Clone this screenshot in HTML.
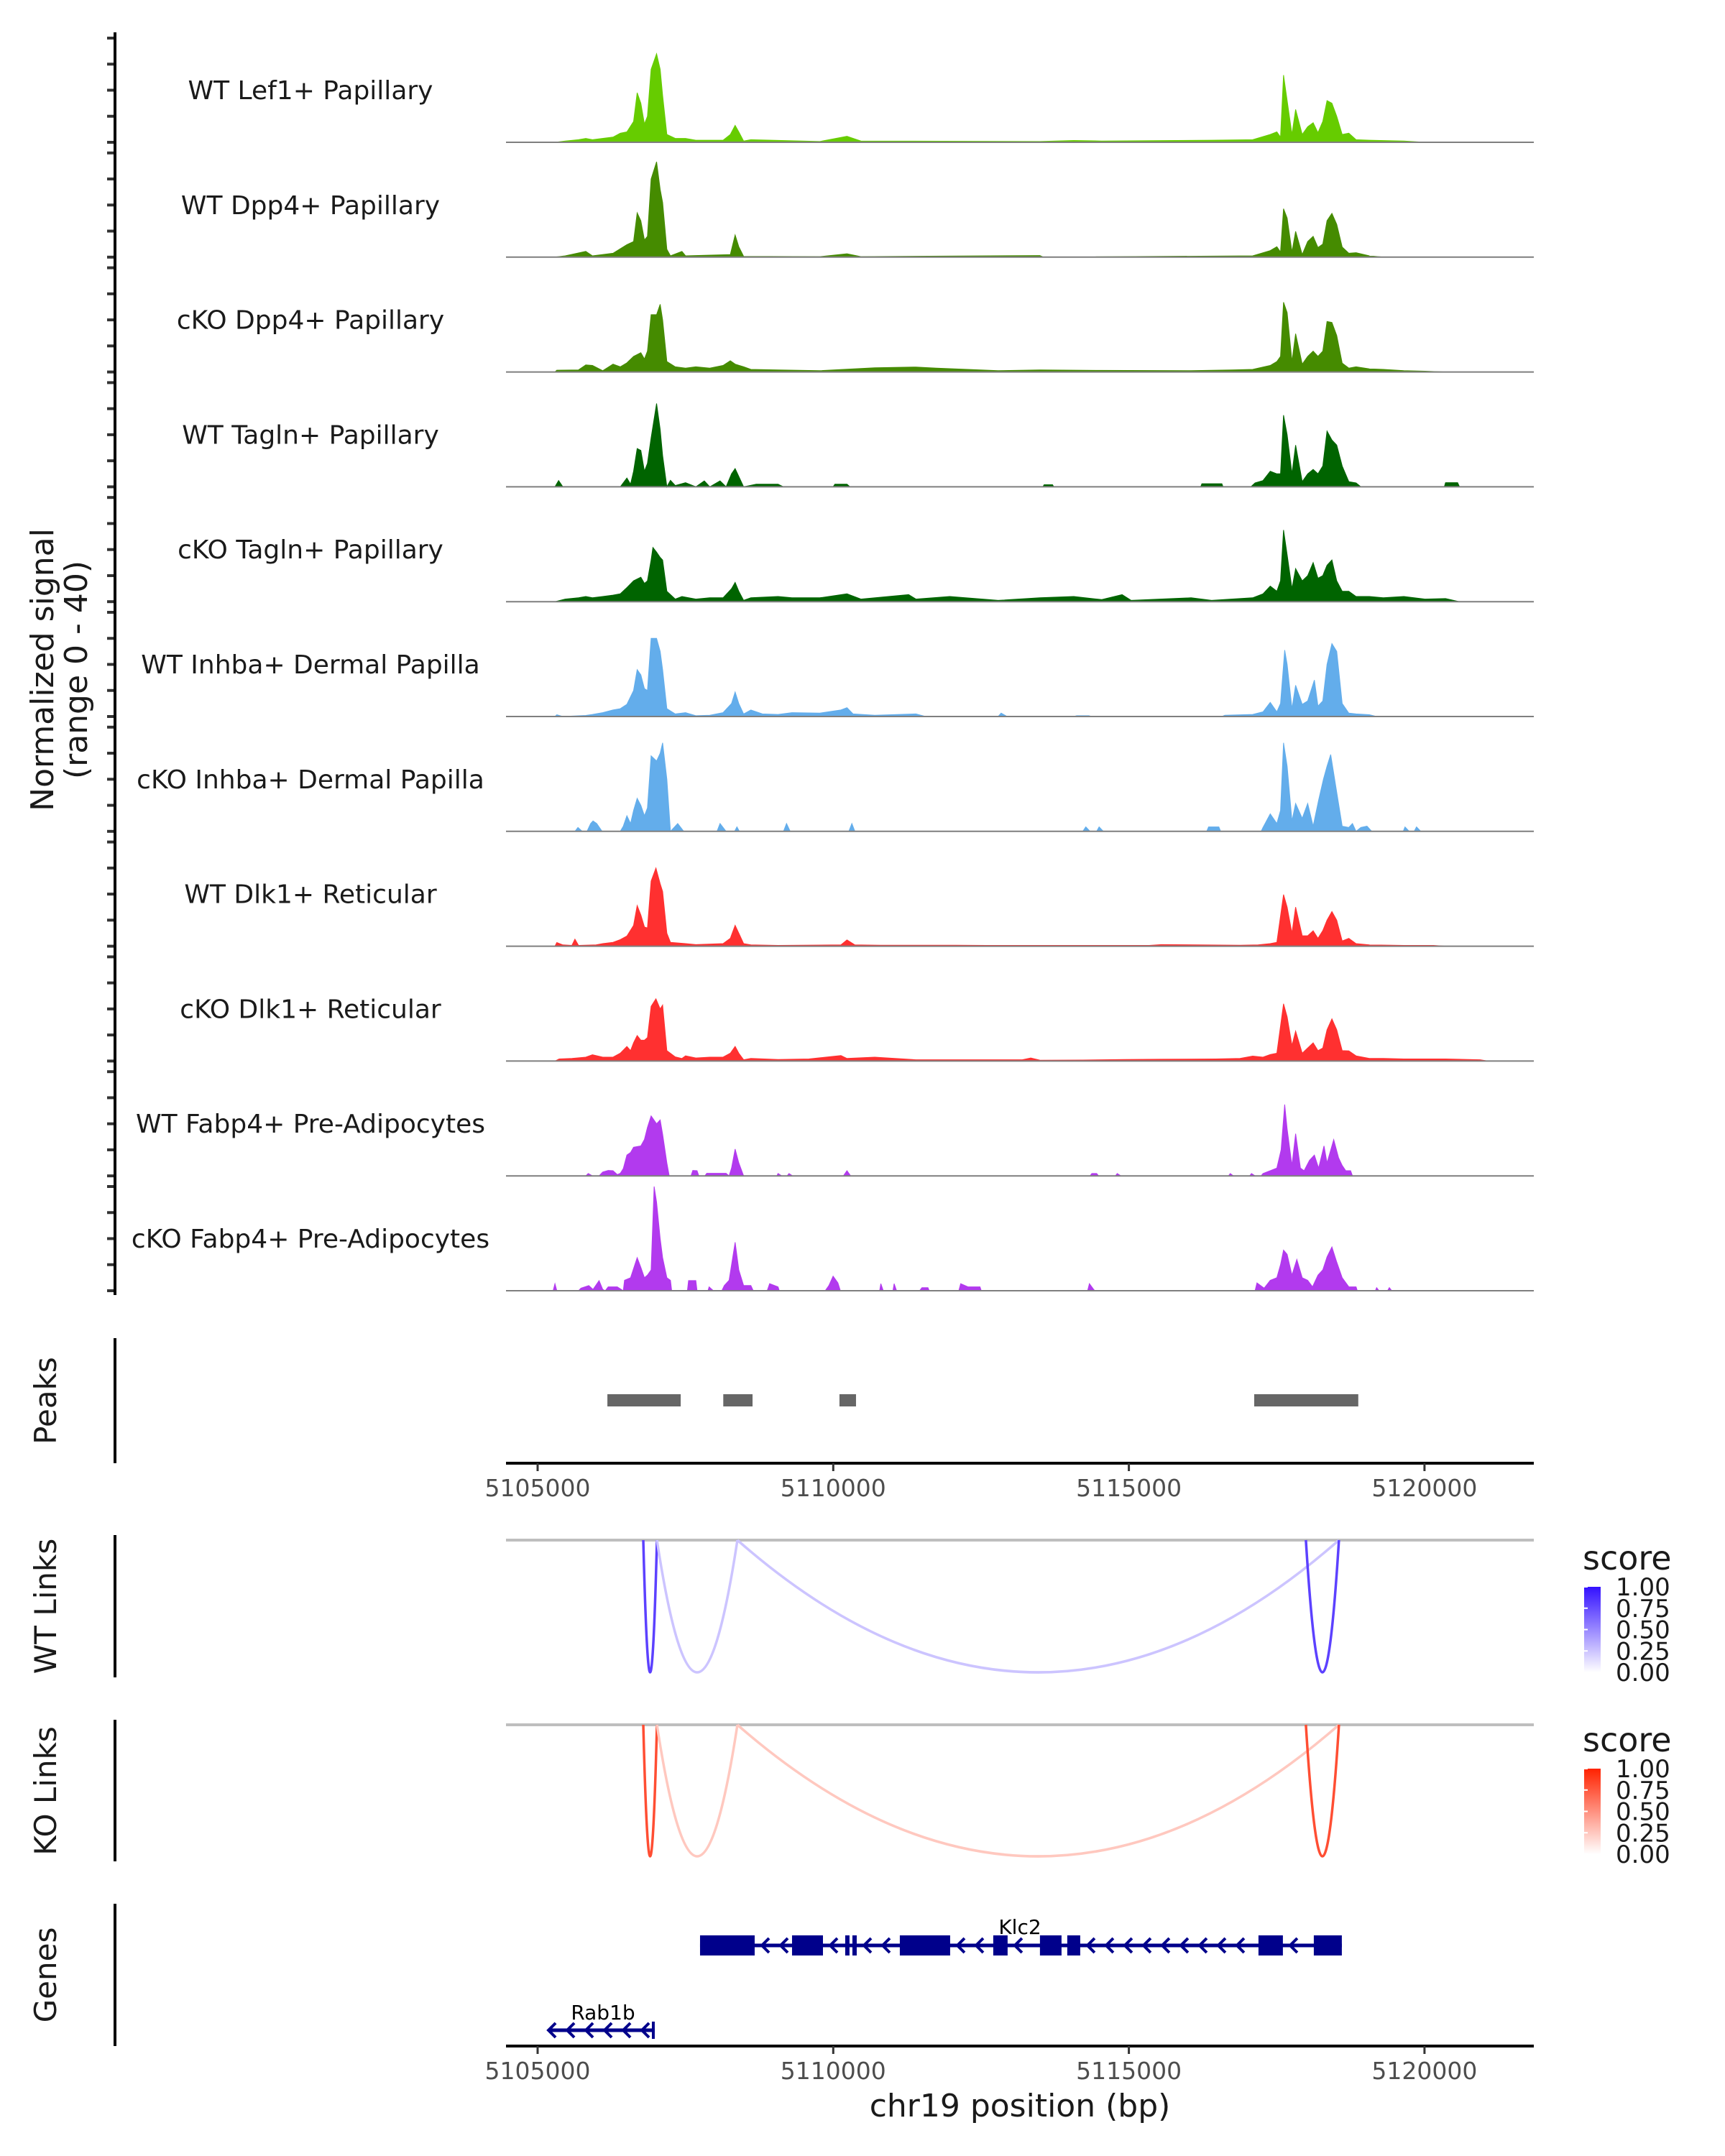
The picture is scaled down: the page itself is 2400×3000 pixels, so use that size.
<!DOCTYPE html>
<html><head><meta charset="utf-8">
<style>
html,body{margin:0;padding:0;background:#fff;}
svg{display:block;}
text{font-family:"DejaVu Sans","Liberation Sans",sans-serif;}
</style></head>
<body>
<svg id="chart" xmlns="http://www.w3.org/2000/svg" width="2400" height="3000" viewBox="0 0 2400 3000">
<rect x="0" y="0" width="2400" height="3000" fill="#fff"/>
<g id="tracks"></g>
<g id="axes"></g>
<g id="links"></g>
<g id="genes"></g>
<text x="0" y="0" transform="translate(82,932) rotate(-90)" text-anchor="middle" font-size="44" fill="#1a1a1a"><tspan x="0" dy="-8">Normalized signal</tspan><tspan x="0" dy="47">(range 0 - 40)</tspan></text>
<text transform="translate(78,1949) rotate(-90)" text-anchor="middle" font-size="42" fill="#1a1a1a">Peaks</text>
<text transform="translate(78,2235) rotate(-90)" text-anchor="middle" font-size="42" fill="#1a1a1a">WT Links</text>
<text transform="translate(78,2492) rotate(-90)" text-anchor="middle" font-size="42" fill="#1a1a1a">KO Links</text>
<text transform="translate(78,2748) rotate(-90)" text-anchor="middle" font-size="42" fill="#1a1a1a">Genes</text>
<text x="1419" y="2945" text-anchor="middle" font-size="44" fill="#1a1a1a">chr19 position (bp)</text>
</svg>
<script>
const NS="http://www.w3.org/2000/svg";
// ---- data ----
const trackNames=["WT Lef1+ Papillary","WT Dpp4+ Papillary","cKO Dpp4+ Papillary","WT Tagln+ Papillary","cKO Tagln+ Papillary","WT Inhba+ Dermal Papilla","cKO Inhba+ Dermal Papilla","WT Dlk1+ Reticular","cKO Dlk1+ Reticular","WT Fabp4+ Pre-Adipocytes","cKO Fabp4+ Pre-Adipocytes"];
const trackColors=["#66CC00","#458B00","#458B00","#006400","#006400","#63ADEB","#63ADEB","#FF3030","#FF3030","#B23AEE","#B23AEE"];
const sigWtLef1=[[5105370,0],[5105540,0.5],[5105760,1],[5105880,1.5],[5105990,1],[5106330,2],[5106450,3.5],[5106560,4],[5106670,8],[5106730,19],[5106790,15],[5106850,7],[5106900,10],[5106960,28],[5107050,34],[5107110,28],[5107150,18],[5107220,3],[5107360,1.5],[5107530,1.5],[5107700,0.8],[5108150,0.8],[5108270,3],[5108350,6.5],[5108410,4],[5108490,0.5],[5108610,1],[5109750,0.3],[5110200,2.3],[5110430,0.5],[5113390,0.3],[5113950,0.7],[5114410,0.5],[5116230,0.8],[5116910,1],[5117200,3],[5117310,4],[5117370,2],[5117420,25.8],[5117480,16],[5117560,3],[5117620,12.6],[5117730,3],[5117820,6],[5117910,7.5],[5117990,3.7],[5118070,8],[5118140,16],[5118220,15],[5118300,10],[5118390,3],[5118500,3.5],[5118620,1],[5118840,0.8],[5119410,0.5],[5119760,0]];
const sigWtDpp4=[[5105370,0],[5105540,0.5],[5105880,2.2],[5105990,0.5],[5106330,1.5],[5106560,4.8],[5106670,6],[5106730,17],[5106790,14],[5106850,6.6],[5106900,8],[5106960,30],[5107050,36.6],[5107110,26],[5107150,21],[5107220,3],[5107280,0.5],[5107470,2.2],[5107530,0.5],[5108270,1],[5108350,8.5],[5108410,4],[5108490,0.3],[5109750,0.2],[5110200,1.3],[5110430,0.2],[5113390,0.6],[5113450,0],[5116910,0.5],[5117200,2.5],[5117310,4],[5117370,2],[5117420,18.6],[5117480,15],[5117560,2],[5117620,9.9],[5117730,1],[5117820,6],[5117910,8],[5117990,3.7],[5118070,5],[5118140,14],[5118220,16.8],[5118300,12.6],[5118390,3.9],[5118500,1.5],[5118620,1.7],[5118840,0.5],[5119070,0]];
const sigCkoDpp4=[[5105370,0],[5105400,0.7],[5105760,0.8],[5105880,2.7],[5105990,2.5],[5106160,0.5],[5106330,3],[5106450,2],[5106560,3.5],[5106670,6],[5106790,7.4],[5106850,5],[5106900,8],[5106960,22],[5107050,22],[5107110,26],[5107150,20],[5107220,4],[5107360,2],[5107530,1.5],[5107700,2],[5107930,1.5],[5108150,2.5],[5108270,4.3],[5108350,3],[5108490,2],[5108610,1],[5109060,0.8],[5109750,0.5],[5110660,1.6],[5111340,1.9],[5111680,1.5],[5112700,0.5],[5113390,0.8],[5114410,0.6],[5115890,0.5],[5116570,0.8],[5116910,1],[5117200,2.5],[5117310,4],[5117370,6],[5117420,26.8],[5117480,22.8],[5117560,4],[5117620,14.7],[5117730,3],[5117820,6],[5117910,8],[5117990,6],[5118070,8],[5118140,19.4],[5118220,19],[5118300,14],[5118390,3.4],[5118500,1.5],[5118620,2],[5118840,1.2],[5119070,1],[5119410,0.5],[5119760,0.3],[5120100,0]];
const sigWtTagln=[[5105370,0],[5105430,2.4],[5105500,0],[5106450,0],[5106560,3.4],[5106620,1],[5106670,6],[5106730,14.7],[5106790,14],[5106850,6],[5106900,9],[5106960,18.8],[5107050,32],[5107110,22],[5107150,12],[5107220,0],[5107280,2.5],[5107360,0.5],[5107530,1.6],[5107700,0],[5107840,2.3],[5107930,0],[5108100,2.3],[5108200,0],[5108290,5],[5108350,7],[5108410,4],[5108490,0],[5108700,1],[5109060,1],[5109150,0],[5109970,0],[5110000,1],[5110200,1],[5110250,0],[5113440,0],[5113460,0.8],[5113600,0.8],[5113620,0],[5116050,0],[5116070,1.2],[5116400,1.2],[5116420,0],[5116880,0],[5116950,1.5],[5117080,2.4],[5117200,6],[5117310,5],[5117370,5],[5117420,27.5],[5117480,20],[5117560,5],[5117620,16],[5117730,2],[5117820,5],[5117910,6.7],[5117990,5],[5118070,8],[5118140,21.4],[5118220,18],[5118300,16],[5118390,8],[5118500,2],[5118620,1.5],[5118700,0],[5120080,0],[5120100,1.6],[5120300,1.6],[5120330,0]];
const sigCkoTagln=[[5105370,0],[5105540,1],[5105760,1.5],[5105880,2],[5105990,1.5],[5106160,2],[5106330,2.5],[5106450,3],[5106560,5.4],[5106670,8],[5106790,9.4],[5106850,7],[5106900,8],[5106960,16],[5106990,20.8],[5107050,19],[5107110,17],[5107150,16],[5107220,4],[5107360,1],[5107470,2],[5107700,1],[5107930,1.5],[5108150,1.5],[5108290,5],[5108350,7.4],[5108410,4],[5108490,0.5],[5108610,1.5],[5109060,2],[5109290,1.5],[5109750,1.5],[5110200,3],[5110430,1],[5111220,2.7],[5111340,1],[5111900,2],[5112700,0.5],[5113390,1.5],[5113950,2],[5114410,0.8],[5114750,2.7],[5114900,0.5],[5115890,1.5],[5116230,0.5],[5116910,1.5],[5117080,3],[5117200,6],[5117310,4],[5117370,8],[5117420,27.5],[5117480,18],[5117560,5],[5117620,12.7],[5117730,8],[5117820,10],[5117910,15],[5117990,9],[5118070,10],[5118140,14],[5118220,16],[5118300,8],[5118390,4],[5118500,4],[5118620,2],[5118840,2],[5119070,1.5],[5119410,2],[5119760,1],[5120100,1.2],[5120330,0]];
const sigWtInhba=[[5105370,0],[5105400,0.7],[5105500,0],[5105880,0.4],[5105990,0.8],[5106160,1.5],[5106330,2.5],[5106450,3],[5106560,4.7],[5106670,10],[5106730,18],[5106790,16],[5106850,10.7],[5106900,10],[5106960,30],[5107050,30],[5107110,25],[5107150,18],[5107220,3],[5107360,1],[5107530,1.5],[5107700,0.3],[5107930,0.5],[5108150,1.5],[5108290,5],[5108350,9.4],[5108410,5],[5108490,1],[5108610,2.5],[5108800,1],[5109060,0.8],[5109290,1.5],[5109750,1.3],[5110100,2.5],[5110200,3.4],[5110300,1],[5110660,0.5],[5111340,1],[5111500,0],[5112700,0],[5112750,1.3],[5112850,0],[5113950,0],[5114000,0.3],[5114200,0.3],[5114250,0],[5116400,0],[5116450,0.5],[5116910,0.8],[5117080,1.8],[5117200,5.4],[5117310,1.8],[5117370,5],[5117440,25.5],[5117480,20],[5117560,3],[5117620,12],[5117730,4.7],[5117820,6],[5117930,14],[5117990,4],[5118070,6],[5118140,20],[5118220,28],[5118300,25],[5118390,5],[5118500,1.3],[5118620,1],[5118840,0.7],[5118960,0]];
const sigCkoInhba=[[5105370,0],[5105700,0],[5105750,1.5],[5105820,0],[5105900,0],[5105960,3],[5106000,4],[5106060,3],[5106150,0],[5106450,0],[5106500,2],[5106560,6],[5106620,3],[5106670,8],[5106730,12.7],[5106790,10],[5106850,6],[5106900,9],[5106960,29],[5107050,27],[5107110,30],[5107150,34],[5107220,20],[5107280,0],[5107400,3],[5107500,0],[5108050,0],[5108100,3],[5108200,0],[5108340,0],[5108380,1.7],[5108420,0],[5109150,0],[5109200,3],[5109260,0],[5110230,0],[5110280,3],[5110330,0],[5114100,0],[5114150,1.7],[5114220,0],[5114330,0],[5114370,1.7],[5114440,0],[5116150,0],[5116180,1.7],[5116350,1.7],[5116380,0],[5117050,0],[5117080,1.5],[5117200,6.7],[5117310,3],[5117370,8],[5117420,34],[5117480,25],[5117560,4],[5117620,10.7],[5117730,5],[5117820,10.7],[5117910,2],[5118000,12],[5118080,20],[5118140,25],[5118200,29.5],[5118300,15],[5118390,2],[5118500,1.5],[5118560,3],[5118620,0],[5118700,1.5],[5118800,2],[5118880,0],[5119400,0],[5119430,1.7],[5119500,0],[5119580,0],[5119620,1.7],[5119690,0]];
const sigWtDlk1=[[5105370,0],[5105400,1.4],[5105500,0.5],[5105650,0.3],[5105700,2.7],[5105760,0.3],[5106050,0.5],[5106160,1],[5106330,1.5],[5106450,2.5],[5106560,3.9],[5106670,8],[5106730,15.6],[5106790,12],[5106850,7.4],[5106900,7],[5106960,25],[5107040,30],[5107110,24],[5107150,21],[5107220,5],[5107280,1.5],[5107530,1],[5107700,0.6],[5108150,1],[5108270,3],[5108350,8],[5108410,5],[5108490,1],[5108610,0.5],[5109060,0.3],[5110100,0.5],[5110200,2.4],[5110330,0.5],[5110750,0.4],[5111400,0.4],[5112000,0.4],[5112500,0.3],[5115200,0.3],[5115400,0.6],[5116700,0.4],[5117000,0.5],[5117200,1],[5117310,1.5],[5117420,19.8],[5117480,15],[5117560,5],[5117620,15],[5117730,4],[5117820,4],[5117910,5.9],[5117990,3],[5118070,6],[5118140,10],[5118220,13.3],[5118300,10],[5118390,2],[5118500,3],[5118620,1],[5118840,0.5],[5119410,0.3],[5119900,0.3],[5120100,0]];
const sigCkoDlk1=[[5105370,0],[5105440,0.8],[5105650,1],[5105880,1.5],[5105990,2.4],[5106160,1.5],[5106330,1.5],[5106450,3],[5106560,5.6],[5106620,4],[5106670,7],[5106730,9.8],[5106790,8],[5106850,8],[5106900,9],[5106960,21],[5107040,23.9],[5107110,20],[5107150,21.5],[5107220,4],[5107360,1.6],[5107470,1],[5107530,2],[5107700,1.2],[5107930,1.5],[5108150,1.5],[5108270,3],[5108350,5.6],[5108410,3],[5108490,0.5],[5108610,1],[5109060,0.6],[5109570,0.8],[5110100,2.1],[5110200,1],[5110660,1.5],[5111340,0.5],[5113100,0.5],[5113240,1.2],[5113400,0.3],[5114100,0.4],[5114800,0.6],[5115400,0.7],[5116300,0.8],[5116700,1],[5116910,1.9],[5117080,1.5],[5117200,2.5],[5117310,3],[5117420,22],[5117480,17],[5117560,6],[5117620,11.5],[5117730,3],[5117820,5],[5117910,7],[5117990,4],[5118070,5],[5118140,12],[5118220,16.2],[5118300,12],[5118390,4],[5118500,3.9],[5118620,2],[5118840,1],[5119070,1],[5119410,0.8],[5119760,0.8],[5120100,0.8],[5120670,0.5],[5120800,0]];
const sigWtFabp4=[[5105880,0],[5105920,0.9],[5105990,0],[5106100,0],[5106160,1.5],[5106250,2.1],[5106330,2],[5106400,0.5],[5106450,1],[5106500,2.8],[5106560,8],[5106620,9],[5106670,11],[5106790,11.5],[5106850,14],[5106900,18.6],[5106960,23],[5107050,20],[5107110,21.5],[5107150,16],[5107220,5],[5107260,0],[5107620,0],[5107650,2.1],[5107720,2],[5107750,0],[5107850,0],[5107880,1],[5108000,1],[5108200,1],[5108250,0],[5108290,3],[5108350,10.3],[5108410,5],[5108490,0],[5109040,0],[5109060,0.9],[5109120,0],[5109210,0],[5109240,0.9],[5109300,0],[5110140,0],[5110200,2],[5110260,0],[5114220,0],[5114250,0.9],[5114330,0.9],[5114360,0],[5114640,0],[5114670,0.9],[5114730,0],[5116510,0],[5116540,0.9],[5116590,0],[5116860,0],[5116890,0.9],[5116950,0],[5117050,0],[5117080,0.9],[5117200,2],[5117310,3],[5117380,10],[5117440,27.4],[5117480,18],[5117560,4],[5117620,16.2],[5117700,3],[5117760,2],[5117850,6],[5117930,8],[5118000,3],[5118090,11.5],[5118140,5],[5118250,13.9],[5118330,7],[5118390,4],[5118450,2],[5118530,2],[5118560,0]];
const sigCkoFabp4=[[5105340,0],[5105370,2.7],[5105400,0],[5105760,0],[5105800,1],[5105930,2],[5106000,0.5],[5106100,3.9],[5106160,0.5],[5106200,0],[5106250,1.5],[5106400,1.5],[5106500,0],[5106520,4],[5106620,5],[5106730,12.7],[5106790,9],[5106850,5],[5106900,6],[5106960,8],[5107010,40],[5107050,34],[5107110,20],[5107150,12.7],[5107220,5],[5107280,4],[5107300,0],[5107560,0],[5107580,3.9],[5107700,3.9],[5107720,0],[5107900,0],[5107920,1.5],[5107990,0],[5108130,0],[5108170,2],[5108250,4],[5108350,18.6],[5108410,8],[5108490,2],[5108610,2],[5108650,0],[5108880,0],[5108920,2.7],[5109060,1.5],[5109080,0],[5109840,0],[5109900,2],[5109970,5.6],[5110050,3],[5110090,0],[5110740,0],[5110760,2.7],[5110800,0],[5110960,0],[5110980,2.7],[5111020,0],[5111400,0],[5111440,1.2],[5111540,1.2],[5111560,0],[5112050,0],[5112080,2.7],[5112200,1.5],[5112400,1.5],[5112420,0],[5114180,0],[5114210,2.7],[5114280,0.5],[5114300,0],[5116950,0],[5116980,3],[5117100,1],[5117200,4],[5117310,5],[5117370,10],[5117420,15.6],[5117480,14],[5117560,6],[5117640,12],[5117730,5],[5117820,4],[5117900,1.5],[5117990,6],[5118070,8],[5118140,13],[5118220,16.8],[5118300,11],[5118390,5],[5118500,1.5],[5118620,1.5],[5118640,0],[5118940,0],[5118960,1.2],[5119000,0],[5119140,0],[5119170,1.2],[5119210,0]];
const trackSignals=[sigWtLef1,sigWtDpp4,sigCkoDpp4,sigWtTagln,sigCkoTagln,sigWtInhba,sigCkoInhba,sigWtDlk1,sigCkoDlk1,sigWtFabp4,sigCkoFabp4];
const xTicks=[5105000,5110000,5115000,5120000];
const xTickLabels=["5105000","5110000","5115000","5120000"];
const yTicks=[0,10,20,30,40];
const peakStarts=[5106180,5108140,5110105,5117120];
const peakEnds=[5107420,5108635,5110385,5118880];
const linkStarts=[5106787,5107018,5108379,5117994];
const linkEnds=[5107018,5108379,5118553,5118553];
const wtLinkScores=[0.8,0.25,0.25,0.8];
const koLinkScores=[0.8,0.25,0.25,0.8];
const legendTicks=[1.00,0.75,0.50,0.25,0.00];
const legendLabels=["1.00","0.75","0.50","0.25","0.00"];
const klc2ExonStarts=[5107747,5109303,5110202,5110324,5111126,5112706,5113496,5113958,5117192,5118128];
const klc2ExonEnds=[5108671,5109826,5110275,5110397,5111977,5112949,5113861,5114177,5117605,5118602];
const rab1bRange=[5105207,5106981];

// ---- scales ----
const X0=748, KX=411.3/5000, PLOT_L=704, PLOT_R=2134;
function xs(bp){return X0+(bp-5105000)*KX;}
// calibration of digitised track positions
function cal(bp){return 5105000+(bp-5105000)*1.0226-85;}
const BASE0=198, TSTEP=159.8, UNIT=145/40;
function trackBase(i){return BASE0+i*TSTEP;}
function ys(v,i){return trackBase(i)-v*UNIT;}

const gT=document.getElementById('tracks');
const gA=document.getElementById('axes');
const gL=document.getElementById('links');
const gG=document.getElementById('genes');
function mk(tag,attrs,parent){const e=document.createElementNS(NS,tag);for(const k in attrs)e.setAttribute(k,attrs[k]);parent.appendChild(e);return e;}

trackSignals.forEach((pts,i)=>{
  const b=trackBase(i);
  let d='M'+xs(cal(pts[0][0])).toFixed(1)+','+b;
  pts.forEach(p=>{d+='L'+xs(cal(p[0])).toFixed(1)+','+ys(p[1],i).toFixed(1);});
  d+='L'+xs(cal(pts[pts.length-1][0])).toFixed(1)+','+b+'Z';
  const a=mk('path',{d:d,fill:trackColors[i],stroke:trackColors[i],'stroke-width':1},gT);
  
  
  const bl=mk('line',{x1:PLOT_L,x2:PLOT_R,y1:b,y2:b,stroke:'#7f7f7f','stroke-width':2},gT);
  
  
  const t=mk('text',{x:432,y:b-60,'text-anchor':'middle','font-size':36,fill:'#1a1a1a'},gT);
  t.textContent=trackNames[i];
  
  
  yTicks.forEach(v=>{
    const tk=mk('line',{x1:149,x2:160,y1:ys(v,i),y2:ys(v,i),stroke:'#333','stroke-width':4},gA);
    
    
  });
});
const yax=mk('line',{x1:160,x2:160,y1:45,y2:1802,stroke:'#000','stroke-width':4},gA);



[[1862,2036,'peaks-axis-line'],[2136,2334,'wt-links-axis-line'],[2393,2590,'ko-links-axis-line'],[2649,2847,'genes-axis-line']].forEach(s=>{
  const l=mk('line',{x1:160,x2:160,y1:s[0],y2:s[1],stroke:'#000','stroke-width':4},gA);
  
  
});

peakStarts.forEach((s,i)=>{
  const r=mk('rect',{x:xs(s),y:1940,width:xs(peakEnds[i])-xs(s),height:17,fill:'#666666'},gA);
  
  
});

function xAxis(y,name){
  const l=mk('line',{x1:PLOT_L,x2:PLOT_R,y1:y,y2:y,stroke:'#000','stroke-width':4},gA);
  
  
  xTicks.forEach((t,i)=>{
    const tk=mk('line',{x1:xs(t),x2:xs(t),y1:y,y2:y+11,stroke:'#333','stroke-width':3},gA);
    
    
    const tl=mk('text',{x:xs(t),y:y+46,'text-anchor':'middle','font-size':33,fill:'#4d4d4d'},gA);
    tl.textContent=xTickLabels[i];
    
    
  });
}
xAxis(2036,'peaks-x-axis');
xAxis(2847,'x-axis');

function mix(c,s){return 'rgb('+c.map(v=>Math.round(255-(255-v)*s)).join(',')+')';}
function linkPanel(base,bottom,scores,col,name,legY){
  const bl=mk('line',{x1:PLOT_L,x2:PLOT_R,y1:base,y2:base,stroke:'#bebebe','stroke-width':4},gL);
  
  
  linkStarts.forEach((s,i)=>{
    const x1=xs(s),x2=xs(linkEnds[i]);
    const cy=base+2*(bottom-base);
    const p=mk('path',{d:'M'+x1+','+base+'Q'+((x1+x2)/2)+','+cy+' '+x2+','+base,fill:'none',stroke:mix(col,scores[i]),'stroke-width':3.5},gL);
    
    
  });
  const t=mk('text',{x:2202,y:legY,'font-size':46,fill:'#1a1a1a'},gL);
  t.textContent='score';
  
  
  const gid=name+'-grad';
  const defs=mk('defs',{},gL);
  const lg=mk('linearGradient',{id:gid,x1:0,y1:1,x2:0,y2:0},defs);
  mk('stop',{offset:0,'stop-color':'#ffffff'},lg);
  mk('stop',{offset:1,'stop-color':mix(col,1)},lg);
  const top=legY+24, h=119;
  const r=mk('rect',{x:2204,y:top,width:23,height:h,fill:'url(#'+gid+')'},gL);
  
  
  legendTicks.forEach((v,k)=>{
    const yy=top+(1-v)*h;
    const tl=mk('text',{x:2248,y:yy+12,'font-size':34,fill:'#1a1a1a'},gL);
    tl.textContent=legendLabels[k];
    
    
    const tk=mk('line',{x1:2204,x2:2209,y1:yy,y2:yy,stroke:'#fff','stroke-width':2},gL);
    
    
  });
}
linkPanel(2143,2327,wtLinkScores,[51,17,255],'wt-links',2184);
linkPanel(2400,2583,koLinkScores,[255,34,0],'ko-links',2437);

const GC='#00008B';
function chevrons(xa,xb,y,parentName){
  for(let x=xa+14;x<xb-6;x+=26){
    const c=mk('path',{d:'M'+(x+6)+','+(y-10)+'L'+(x-4)+','+y+'L'+(x+6)+','+(y+10),fill:'none',stroke:GC,'stroke-width':4},gG);
    
    
  }
}
const kY=2707;
const kx1=xs(klc2ExonStarts[0]), kx2=xs(klc2ExonEnds[klc2ExonEnds.length-1]);
const kl=mk('line',{x1:kx1,x2:kx2,y1:kY,y2:kY,stroke:GC,'stroke-width':5},gG);


klc2ExonStarts.forEach((s,i)=>{
  if(i>0) chevrons(xs(klc2ExonEnds[i-1]),xs(s),kY,'klc2');
  const r=mk('rect',{x:xs(s),y:kY-14,width:Math.max(4,xs(klc2ExonEnds[i])-xs(s)),height:28,fill:GC},gG);
  
  
});
const kt=mk('text',{x:1419,y:2691,'text-anchor':'middle','font-size':28,fill:'#000'},gG);
kt.textContent='Klc2';


const rY=2825, rx1=xs(rab1bRange[0]), rx2=xs(rab1bRange[1]);
const rl=mk('line',{x1:rx1,x2:rx2,y1:rY,y2:rY,stroke:GC,'stroke-width':5},gG);


chevrons(rx1-12,rx2,rY,'rab1b');
const re=mk('rect',{x:rx2-4,y:rY-12,width:4,height:24,fill:GC},gG);


const rt=mk('text',{x:839,y:2810,'text-anchor':'middle','font-size':28,fill:'#000'},gG);
rt.textContent='Rab1b';


</script>
</body></html>
